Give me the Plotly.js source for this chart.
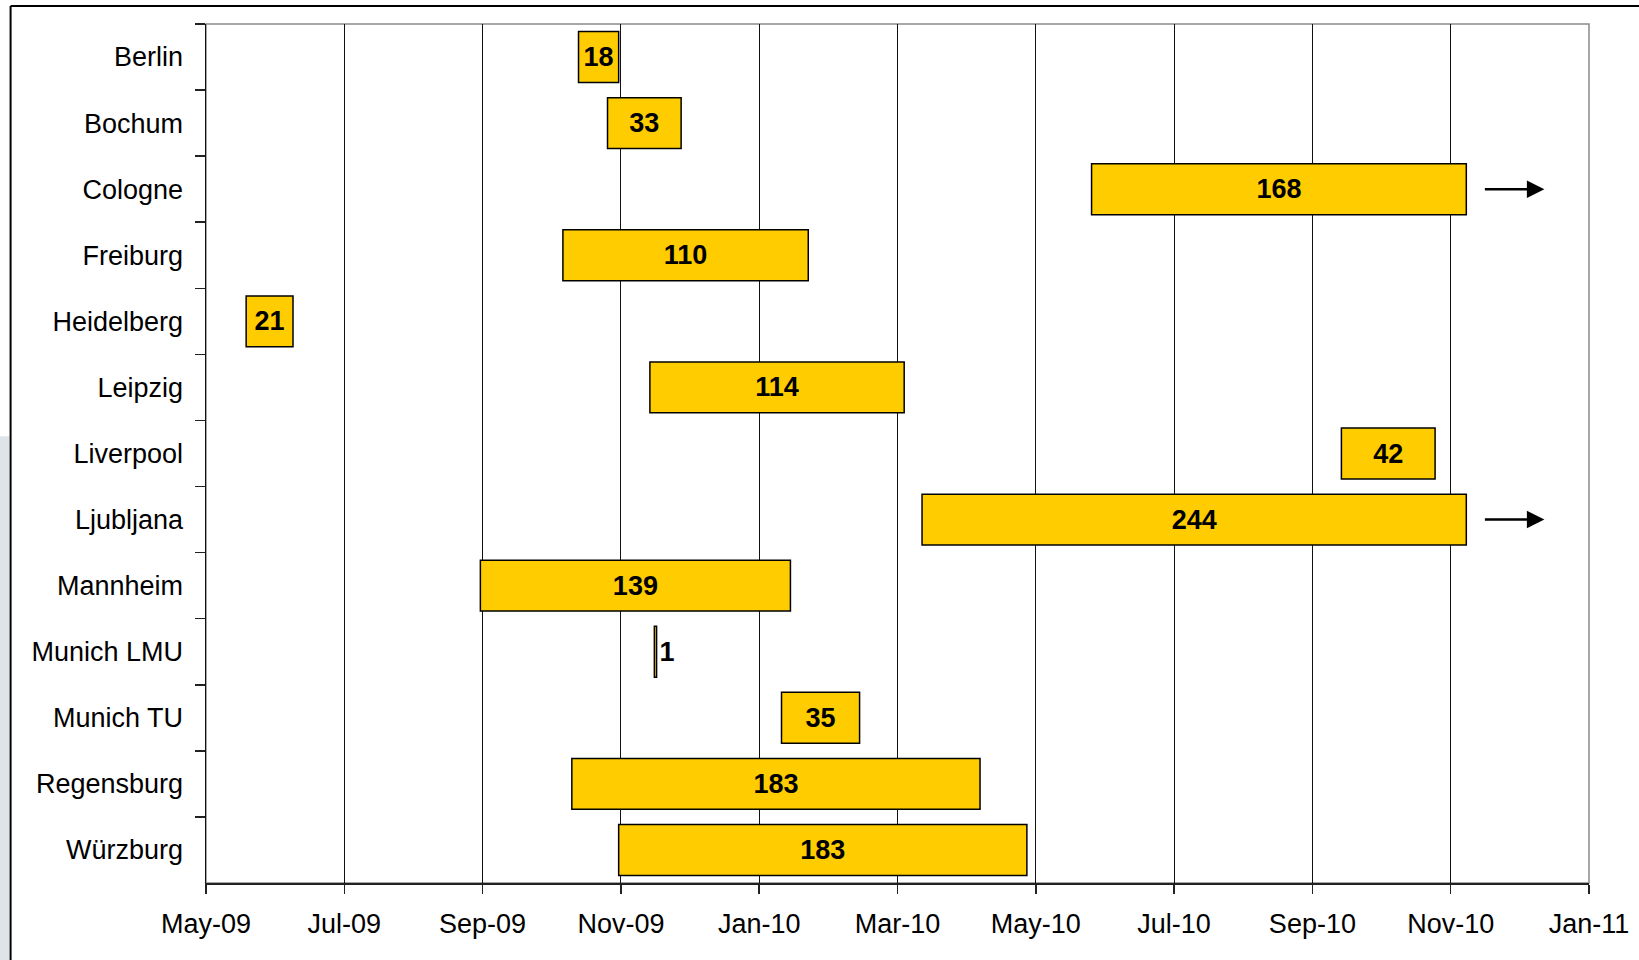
<!DOCTYPE html>
<html>
<head>
<meta charset="utf-8">
<script src="https://cdn.plot.ly/plotly-3.0.1.min.js"></script>
<style>
  html, body { margin: 0; padding: 0; background: #ffffff; }
  #chart { width: 1639px; height: 960px; }
</style>
</head>
<body>
<div id="chart"></div>
<script>
// ---- data ----
const sites = ["Berlin", "Bochum", "Cologne", "Freiburg", "Heidelberg", "Leipzig", "Liverpool",
               "Ljubljana", "Mannheim", "Munich LMU", "Munich TU", "Regensburg", "Würzburg"];
const startDates = ["2009-10-15", "2009-10-28", "2010-06-02", "2009-10-08", "2009-05-19", "2009-11-16", "2010-09-22",
                    "2010-03-18", "2009-09-01", "2009-11-18", "2010-01-14", "2009-10-12", "2009-11-02"];
const durationDays = [18, 33, 168, 110, 21, 114, 42, 244, 139, 1, 35, 183, 183];
const ongoing = [false, false, true, false, false, false, false, true, false, false, false, false, false];
const tickDates = ["2009-05-01", "2009-07-02", "2009-09-02", "2009-11-03", "2010-01-04", "2010-03-07",
                   "2010-05-08", "2010-07-09", "2010-09-09", "2010-11-10", "2011-01-11"];
const tickLabels = ["May-09", "Jul-09", "Sep-09", "Nov-09", "Jan-10", "Mar-10",
                    "May-10", "Jul-10", "Sep-10", "Nov-10", "Jan-11"];
const axisRange = ["2009-05-01", "2011-01-11"];

// ---- helpers ----
const DAY = 86400000;
const FONT = "Liberation Sans, Arial, Helvetica, sans-serif";
function addDays(dateStr, n) {
  const d = new Date(dateStr + "T00:00:00Z");
  return new Date(d.getTime() + n * DAY).toISOString().slice(0, 10);
}

const trace = {
  type: "bar",
  orientation: "h",
  y: sites,
  x: durationDays.map(d => d * DAY),
  base: startDates,
  width: 0.77,
  marker: { color: "#FFCC00", line: { color: "#000000", width: 1.5 } },
  text: durationDays.map(String),
  textposition: durationDays.map(d => d < 5 ? "outside" : "inside"),
  insidetextanchor: "middle",
  constraintext: "none",
  cliponaxis: false,
  textfont: { family: FONT, size: 27, color: "#000000", weight: 700 },
  outsidetextfont: { family: FONT, size: 27, color: "#000000", weight: 700 },
  hoverinfo: "skip"
};

const ARROW_HEAD_GAP = 35;   // days after bar end where arrow tip sits
const annotations = [];
sites.forEach((s, i) => {
  if (ongoing[i]) {
    annotations.push({
      x: addDays(startDates[i], durationDays[i] + ARROW_HEAD_GAP),
      y: s, xref: "x", yref: "y",
      text: "", showarrow: true,
      ax: -61, ay: 0,
      arrowhead: 2, arrowsize: 1.4, arrowwidth: 2.5, arrowcolor: "#000000",
      standoff: 0, startstandoff: 0
    });
  }
});

const layout = {
  width: 1639, height: 960,
  margin: { l: 206, r: 50, t: 24, b: 77, pad: 0 },
  paper_bgcolor: "#ffffff",
  plot_bgcolor: "#ffffff",
  showlegend: false,
  font: { family: FONT, size: 27, color: "#000000" },
  xaxis: {
    type: "date",
    range: axisRange,
    tickmode: "array",
    tickvals: tickDates,
    ticktext: tickLabels,
    ticks: "outside", ticklen: 9, tickwidth: 1.5, tickcolor: "#222",
    tickfont: { family: FONT, size: 27, color: "#000" },
    ticklabelstandoff: 7,
    showgrid: true, gridcolor: "#111", gridwidth: 1,
    showline: true, linecolor: "#222", linewidth: 1.5,
    zeroline: false, fixedrange: true
  },
  yaxis: {
    type: "category",
    categoryorder: "array",
    categoryarray: sites,
    autorange: "reversed",
    tickson: "boundaries",
    ticks: "outside", ticklen: 10, tickwidth: 1.5, tickcolor: "#222",
    tickfont: { family: FONT, size: 27, color: "#000" },
    ticklabelstandoff: 16,
    showgrid: false,
    showline: true, linecolor: "#111", linewidth: 1.5,
    zeroline: false, fixedrange: true
  },
  shapes: [
    { type: "rect", xref: "paper", yref: "paper", x0: 0, x1: 1, y0: 0, y1: 1,
      line: { color: "#8a8a8a", width: 1.5 }, layer: "below" },
    // outer frame (left and top)
    { type: "line", xref: "paper", yref: "paper", x0: -0.1413, x1: -0.1413, y0: 1.021, y1: -0.1,
      line: { color: "#000", width: 2 } },
    { type: "line", xref: "paper", yref: "paper", x0: -0.1413, x1: 1.04, y0: 1.021, y1: 1.021,
      line: { color: "#000", width: 2 } },
    // light strip at far left
    { type: "rect", xref: "paper", yref: "paper", x0: -0.1495, x1: -0.1422, y0: 0.52, y1: -0.1,
      fillcolor: "#dfe4e9", line: { width: 0 }, layer: "below" }
  ],
  annotations: annotations
};

Plotly.newPlot("chart", [trace], layout, { displayModeBar: false, staticPlot: true });
</script>
</body>
</html>
